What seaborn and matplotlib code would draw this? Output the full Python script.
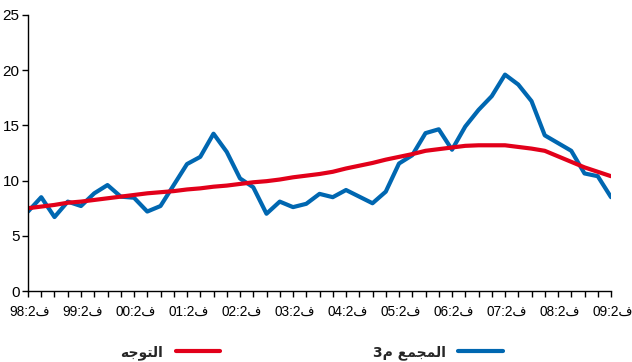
import numpy as np
import pandas as pd
import matplotlib
matplotlib.use("Agg")
import matplotlib.pyplot as plt
import matplotlib.transforms as mtransforms
from matplotlib.ticker import MultipleLocator, FixedLocator, FixedFormatter
import seaborn as sns

# Quarterly observations, 1998 Q2 .. 2009 Q2
m3_values = [7.2, 8.5, 6.7, 8.1, 7.7, 8.85, 9.6, 8.55, 8.45, 7.2,
             7.7, 9.6, 11.5, 12.15, 14.25, 12.6, 10.2, 9.4, 7.0, 8.1,
             7.6, 7.9, 8.8, 8.5, 9.15, 8.55, 7.95, 9.0, 11.55, 12.3,
             14.3, 14.65, 12.8, 14.9, 16.4, 17.65, 19.6, 18.7, 17.2, 14.1,
             13.4, 12.7, 10.65, 10.4, 8.5]
trend_values = [7.5, 7.65, 7.8, 8.0, 8.1, 8.25, 8.4, 8.55, 8.7, 8.85,
                8.95, 9.05, 9.2, 9.3, 9.45, 9.55, 9.7, 9.85, 9.95, 10.1,
                10.3, 10.45, 10.6, 10.8, 11.1, 11.35, 11.6, 11.9, 12.15, 12.4,
                12.7, 12.85, 13.0, 13.15, 13.2, 13.2, 13.2, 13.05, 12.9, 12.7,
                12.2, 11.7, 11.2, 10.8, 10.4]
year_labels = ["98:2", "99:2", "00:2", "01:2", "02:2", "03:2",
               "04:2", "05:2", "06:2", "07:2", "08:2", "09:2"]
quarter_mark = "\u0641"  # ف

# Arabic legend labels written in visual (left-to-right, shaped) order
label_trend = "\uFEEA\uFE9F\uFEEE\uFE98\uFEDF\uFE8D"            # التوجه
label_m3 = "3\uFEE1 \uFECA\uFEE4\uFEA0\uFEE4\uFEDF\uFE8D"        # المجمع م3

blue = "#0067B1"
red = "#E2001A"

n = len(m3_values)
df = pd.DataFrame({
    "q": list(range(n)) * 2,
    "value": m3_values + trend_values,
    "series": ["m3"] * n + ["trend"] * n,
})

sns.set_theme(style="ticks")
plt.rcParams["font.family"] = ["Liberation Sans", "DejaVu Sans"]

fig = plt.figure(figsize=(6.32, 3.62), dpi=100)
ax = fig.add_axes([0.0443, 0.196, 0.9225, 0.7626])

sns.lineplot(data=df, x="q", y="value", hue="series",
             palette={"m3": blue, "trend": red},
             hue_order=["m3", "trend"], linewidth=3.0, ax=ax, legend=False)

ax.set_xlim(0, n - 1)
ax.set_ylim(0, 25)
ax.set_xlabel("")
ax.set_ylabel("")

ax.yaxis.set_major_locator(MultipleLocator(5))
ax.tick_params(axis="y", direction="out", length=4, width=1, color="black",
               labelsize=11, pad=2, labelcolor="black")

# Tick marks every quarter, labels every fourth quarter
ax.xaxis.set_major_locator(FixedLocator(np.arange(0, n, 4)))
ax.xaxis.set_major_formatter(FixedFormatter([y + quarter_mark for y in year_labels]))
ax.xaxis.set_minor_locator(MultipleLocator(1))
ax.tick_params(axis="x", which="both", direction="out", length=4, width=1,
               color="black", labelsize=9.8, pad=6, labelcolor="black")
shift = mtransforms.ScaledTranslation(2 / 100, 0, fig.dpi_scale_trans)
for lbl in ax.get_xticklabels():
    lbl.set_horizontalalignment("center")
    lbl.set_transform(lbl.get_transform() + shift)

for side in ("top", "right"):
    ax.spines[side].set_visible(False)
for side in ("left", "bottom"):
    ax.spines[side].set_color("black")
    ax.spines[side].set_linewidth(1)

handles = [plt.Line2D([], [], color=red, linewidth=3.0),
           plt.Line2D([], [], color=blue, linewidth=3.0)]
leg = fig.legend(handles, [label_trend, label_m3], ncol=2, markerfirst=False,
                 frameon=False, loc="center", bbox_to_anchor=(0.493, 0.027),
                 handlelength=3.2, handletextpad=0.9, columnspacing=11.0,
                 prop={"family": ["DejaVu Sans"], "weight": "bold", "size": 10})

fig.savefig("out.png", dpi=100)
